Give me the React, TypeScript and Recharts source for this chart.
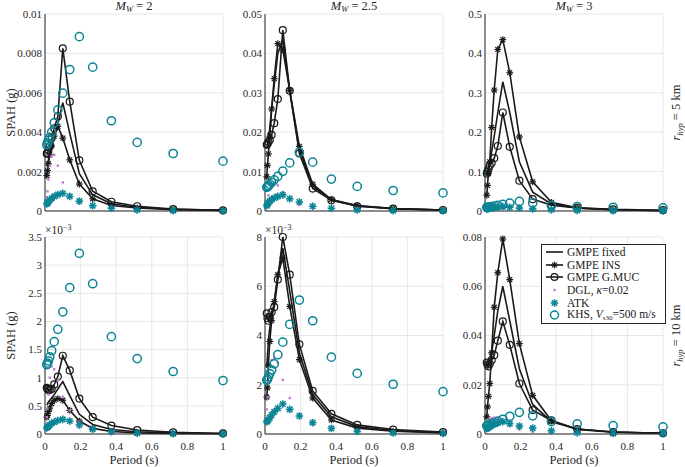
import React from "react";
import { ComposedChart, Line, XAxis, YAxis, CartesianGrid, Legend } from "recharts";

// periods (s), shared by every series
const periods = [0.01, 0.0139, 0.0193, 0.0268, 0.0373, 0.0518, 0.072, 0.1, 0.139, 0.193, 0.268, 0.373, 0.518, 0.72, 1.0];
const xTicksTop = [0, 0.5, 1];
const xTicksBottom = [0, 0.2, 0.4, 0.6, 0.8, 1];

// Mw = 2, r = 5 km
const fixedM2R5 = [0.0023, 0.0024, 0.0026, 0.0029, 0.0033, 0.0038, 0.0044, 0.0055, 0.00395, 0.0019, 0.00082, 0.00037, 0.00019, 0.00008, 0.00003];
const insM2R5 = [0.0018, 0.00205, 0.0024, 0.00285, 0.0033, 0.0038, 0.0043, 0.0037, 0.0026, 0.00137, 0.00062, 0.00028, 0.00015, 0.00007, 0.00003];
const gmucM2R5 = [0.0029, 0.00295, 0.0031, 0.0033, 0.0037, 0.0042, 0.0048, 0.00826, 0.00555, 0.00257, 0.001, 0.00047, 0.00024, 0.0001, 0.00003];
const dglM2R5 = [0.0007, 0.001, 0.0016, 0.0023, 0.0028, 0.00285, 0.0023, 0.00145, 0.0008, 0.0004, 0.00018, 0.00008, 0.00003, 0.00001, 0.000005];
const atkM2R5 = [0.00036, 0.0004, 0.00047, 0.00055, 0.00064, 0.00074, 0.00083, 0.0009, 0.00074, 0.0005, 0.00027, 0.00014, 0.00005, 0.00002, 0.00001];
const khsM2R5 = [0.00335, 0.00345, 0.0036, 0.00374, 0.004, 0.00448, 0.00513, 0.00598, 0.00718, 0.00885, 0.0073, 0.00458, 0.00348, 0.00292, 0.00253];

// Mw = 2.5, r = 5 km
const fixedM25R5 = [0.016, 0.0165, 0.018, 0.021, 0.026, 0.032, 0.04, 0.0435, 0.0305, 0.0155, 0.0063, 0.0028, 0.0013, 0.0006, 0.00022];
const insM25R5 = [0.0087, 0.0116, 0.0145, 0.019, 0.0259, 0.0336, 0.0425, 0.041, 0.0306, 0.0164, 0.0068, 0.0029, 0.0014, 0.0006, 0.00025];
const gmucM25R5 = [0.0168, 0.017, 0.0175, 0.018, 0.0193, 0.0223, 0.0284, 0.0459, 0.0305, 0.0146, 0.0057, 0.0027, 0.0012, 0.0006, 0.00025];
const dglM25R5 = [0.0015, 0.0025, 0.004, 0.0055, 0.0068, 0.0073, 0.0065, 0.0048, 0.003, 0.0016, 0.0008, 0.00035, 0.00015, 0.00005, 0.00002];
const atkM25R5 = [0.00135, 0.0017, 0.0021, 0.0025, 0.0029, 0.0033, 0.0037, 0.0041, 0.0031, 0.0023, 0.0012, 0.0007, 0.00025, 0.0001, 0.00005];
const khsM25R5 = [0.006, 0.0062, 0.0064, 0.0068, 0.0073, 0.0079, 0.0088, 0.0101, 0.0122, 0.0149, 0.0124, 0.0081, 0.00625, 0.0052, 0.0046];

// Mw = 3, r = 5 km
const fixedM3R5 = [0.095, 0.1, 0.11, 0.125, 0.15, 0.19, 0.25, 0.328, 0.25, 0.125, 0.048, 0.018, 0.007, 0.003, 0.001];
const insM3R5 = [0.04, 0.065, 0.095, 0.125, 0.212, 0.307, 0.41, 0.435, 0.351, 0.188, 0.074, 0.022, 0.008, 0.003, 0.001];
const gmucM3R5 = [0.095, 0.1, 0.106, 0.115, 0.122, 0.134, 0.165, 0.25, 0.163, 0.077, 0.03, 0.015, 0.008, 0.004, 0.002];
const dglM3R5 = [0.005, 0.0075, 0.011, 0.0145, 0.016, 0.0165, 0.015, 0.012, 0.008, 0.0045, 0.002, 0.001, 0.0004, 0.0002, 0.0001];
const atkM3R5 = [0.005, 0.0055, 0.006, 0.007, 0.008, 0.009, 0.01, 0.011, 0.0095, 0.0075, 0.0055, 0.003, 0.0012, 0.0005, 0.0002];
const khsM3R5 = [0.0091, 0.0094, 0.0099, 0.0105, 0.0113, 0.0124, 0.0144, 0.0166, 0.0199, 0.0243, 0.0204, 0.0138, 0.0113, 0.0094, 0.008];

// Mw = 2, r = 10 km
const fixedM2R10 = [0.00052, 0.00054, 0.00057, 0.0006, 0.00064, 0.0007, 0.0008, 0.00093, 0.00068, 0.00035, 0.00017, 0.00008, 0.00004, 0.00002, 0.00001];
const insM2R10 = [0.0003, 0.00033, 0.0004, 0.00046, 0.00054, 0.0006, 0.00063, 0.0006, 0.00042, 0.00023, 0.0001, 0.000045, 0.00002, 0.00001, 0.000005];
const gmucM2R10 = [0.00082, 0.0008, 0.00078, 0.00078, 0.0008, 0.00088, 0.00102, 0.00139, 0.00113, 0.00063, 0.0003, 0.00015, 0.00007, 0.00003, 0.00001];
const dglM2R10 = [0.0003, 0.00045, 0.0007, 0.001, 0.0012, 0.00115, 0.00095, 0.00066, 0.00042, 0.00022, 0.0001, 0.00004, 0.000015, 0.000006, 0.000003];
const atkM2R10 = [0.00011, 0.00012, 0.00014, 0.00016, 0.00019, 0.00021, 0.00024, 0.00026, 0.00023, 0.00016, 0.000085, 0.00004, 0.000015, 0.000005, 0.000003];
const khsM2R10 = [0.00123, 0.00126, 0.0013, 0.00137, 0.00148, 0.00164, 0.00186, 0.00217, 0.0026, 0.00321, 0.00267, 0.00173, 0.00134, 0.00111, 0.00095];

// Mw = 2.5, r = 10 km
const fixedM25R10 = [0.0027, 0.0032, 0.0038, 0.0043, 0.0048, 0.0053, 0.0064, 0.00755, 0.0058, 0.0033, 0.0016, 0.0007, 0.0003, 0.00014, 0.00006];
const insM25R10 = [0.0015, 0.00187, 0.0028, 0.00376, 0.0046, 0.00538, 0.00647, 0.00715, 0.00518, 0.00302, 0.00146, 0.00057, 0.00024, 0.00011, 0.00004];
const gmucM25R10 = [0.0049, 0.0047, 0.0046, 0.00475, 0.00495, 0.00515, 0.00627, 0.008, 0.00647, 0.00364, 0.00175, 0.00082, 0.00037, 0.00018, 0.00008];
const dglM25R10 = [0.001, 0.0015, 0.0021, 0.0026, 0.003, 0.0031, 0.0029, 0.0022, 0.00146, 0.0008, 0.0004, 0.00017, 0.00007, 0.00003, 0.00001];
const atkM25R10 = [0.0005, 0.00053, 0.00058, 0.00066, 0.00077, 0.0009, 0.00104, 0.00122, 0.001, 0.00073, 0.00046, 0.00023, 0.0001, 0.00004, 0.00002];
const khsM25R10 = [0.00218, 0.00223, 0.00232, 0.00245, 0.0026, 0.00285, 0.00322, 0.00373, 0.00445, 0.00544, 0.0046, 0.00312, 0.00246, 0.00202, 0.00172];

// Mw = 3, r = 10 km
const fixedM3R10 = [0.027, 0.027, 0.028, 0.03, 0.033, 0.04, 0.05, 0.06, 0.046, 0.0265, 0.012, 0.005, 0.002, 0.0008, 0.0003];
const insM3R10 = [0.007, 0.011, 0.0153, 0.0205, 0.033, 0.0515, 0.0655, 0.0792, 0.0627, 0.0367, 0.0157, 0.0054, 0.0018, 0.0007, 0.0003];
const gmucM3R10 = [0.029, 0.0282, 0.0275, 0.0285, 0.03, 0.032, 0.0379, 0.0457, 0.0362, 0.0205, 0.0097, 0.0055, 0.002, 0.0008, 0.0003];
const dglM3R10 = [0.002, 0.003, 0.0045, 0.0058, 0.0065, 0.0066, 0.006, 0.0048, 0.0033, 0.0018, 0.0009, 0.0004, 0.00015, 0.00006, 0.00003];
const atkM3R10 = [0.0022, 0.0024, 0.0027, 0.003, 0.0035, 0.004, 0.0045, 0.005, 0.0042, 0.0032, 0.0024, 0.0013, 0.0005, 0.0002, 0.0001];
const khsM3R10 = [0.0033, 0.0034, 0.0036, 0.0038, 0.0041, 0.0045, 0.0052, 0.006, 0.0072, 0.0088, 0.0074, 0.005, 0.0041, 0.0034, 0.0029];

// y ticks per panel
const yTicksM2R5 = [0, 0.002, 0.004, 0.006, 0.008, 0.01];
const yTicksM25R5 = [0, 0.01, 0.02, 0.03, 0.04, 0.05];
const yTicksM3R5 = [0, 0.1, 0.2, 0.3, 0.4, 0.5];
const yTicksM2R10 = [0, 0.0005, 0.001, 0.0015, 0.002, 0.0025, 0.003, 0.0035];
const yTicksM25R10 = [0, 0.002, 0.004, 0.006, 0.008];
const yTicksM3R10 = [0, 0.02, 0.04, 0.06, 0.08];

const INK = "#1a1a1a";
const AXIS = "#262626";
const TEAL = "#0b8596";
const PURPLE = "#c27ad8";
const FONT = "'Liberation Serif', 'DejaVu Serif', serif";

const PLOT_W = 178;
const PLOT_H = 197;
const Y_W = 45;
const TOP_PAD = 16;
const RIGHT_PAD = 6;

const star = (color: string, r: number, w: number) => (props: any) => {
  const { cx, cy, index } = props;
  if (cx == null || cy == null) return <g key={`s${index}`} />;
  const d = r * 0.72;
  return (
    <g key={`s${index}`} stroke={color} strokeWidth={w}>
      <line x1={cx - r} y1={cy} x2={cx + r} y2={cy} />
      <line x1={cx} y1={cy - r} x2={cx} y2={cy + r} />
      <line x1={cx - d} y1={cy - d} x2={cx + d} y2={cy + d} />
      <line x1={cx - d} y1={cy + d} x2={cx + d} y2={cy - d} />
    </g>
  );
};

const ring = (color: string, r: number, w: number) => (props: any) => {
  const { cx, cy, index } = props;
  if (cx == null || cy == null) return <g key={`c${index}`} />;
  return <circle key={`c${index}`} cx={cx} cy={cy} r={r} fill="none" stroke={color} strokeWidth={w} />;
};

const pip = (color: string, s: number) => (props: any) => {
  const { cx, cy, index } = props;
  if (cx == null || cy == null) return <g key={`p${index}`} />;
  return <rect key={`p${index}`} x={cx - s / 2} y={cy - s / 2} width={s} height={s} fill={color} />;
};

function LegendBox() {
  const rows: { icon: React.ReactNode; text: React.ReactNode }[] = [
    { icon: <line x1={1} y1={5} x2={18} y2={5} stroke={INK} strokeWidth={1.6} />, text: "GMPE fixed" },
    {
      icon: (
        <g>
          <line x1={1} y1={5} x2={18} y2={5} stroke={INK} strokeWidth={1.6} />
          {star(INK, 3.4, 1.2)({ cx: 9.5, cy: 5, index: 0 })}
        </g>
      ),
      text: "GMPE INS",
    },
    {
      icon: (
        <g>
          <line x1={1} y1={5} x2={18} y2={5} stroke={INK} strokeWidth={1.6} />
          <circle cx={9.5} cy={5} r={3.4} fill="none" stroke={INK} strokeWidth={1.2} />
        </g>
      ),
      text: "GMPE G.MUC",
    },
    { icon: <rect x={8.3} y={3.8} width={2.4} height={2.4} fill={PURPLE} />, text: <>DGL, <i>κ</i>=0.02</> },
    { icon: star(TEAL, 3.8, 1.6)({ cx: 9.5, cy: 5, index: 1 }), text: "ATK" },
    {
      icon: <circle cx={9.5} cy={5} r={4} fill="none" stroke={TEAL} strokeWidth={1.5} />,
      text: (
        <>
          KHS, <i>V</i>
          <span style={{ fontSize: 7, verticalAlign: -2 }}>s30</span>=500 m/s
        </>
      ),
    },
  ];
  return (
    <div
      style={{
        border: `1px solid ${AXIS}`,
        background: "#fff",
        padding: "1px 2px 1px 3px",
        fontFamily: FONT,
        fontSize: 11.5,
        color: INK,
        width: 118,
      }}
    >
      {rows.map((r, i) => (
        <div key={i} style={{ display: "flex", alignItems: "center", height: 12.6, whiteSpace: "nowrap" }}>
          <svg width={20} height={10} style={{ flex: "none", marginRight: 2, overflow: "visible" }}>
            {r.icon}
          </svg>
          <span>{r.text}</span>
        </div>
      ))}
    </div>
  );
}

type PanelProps = {
  left: number;
  top: number;
  fixed: number[];
  ins: number[];
  gmuc: number[];
  dgl: number[];
  atk: number[];
  khs: number[];
  yTicks: number[];
  milli: boolean;
  bottomRow: boolean;
  withLegend?: boolean;
};

function Panel(p: PanelProps) {
  const rows = periods.map((t, i) => ({
    period: t,
    fixed: p.fixed[i],
    ins: p.ins[i],
    gmuc: p.gmuc[i],
    dgl: p.dgl[i],
    atk: p.atk[i],
    khs: p.khs[i],
  }));
  const xh = p.bottomRow ? 33 : 8;
  const xTicks = p.bottomRow ? xTicksBottom : xTicksTop;
  const yMax = p.yTicks[p.yTicks.length - 1];
  const fmtY = (v: number) => (p.milli ? String(+(v * 1000).toFixed(2)) : String(+v.toFixed(4)));
  const tickStyle = { fontSize: 11, fontFamily: FONT, fill: AXIS };
  return (
    <div style={{ position: "absolute", left: p.left - Y_W, top: p.top - TOP_PAD }}>
      <ComposedChart
        width={Y_W + PLOT_W + RIGHT_PAD}
        height={TOP_PAD + PLOT_H + xh}
        data={rows}
        margin={{ top: TOP_PAD, right: RIGHT_PAD, left: 0, bottom: 0 }}
      >
        <CartesianGrid stroke="#e2e2e2" strokeWidth={0.8} />
        <XAxis
          dataKey="period"
          type="number"
          domain={[0, 1]}
          ticks={xTicks}
          height={xh}
          stroke={AXIS}
          tickLine={false}
          tickSize={2}
          tickMargin={6}
          tick={p.bottomRow ? tickStyle : false}
          label={
            p.bottomRow
              ? { value: "Period (s)", position: "insideBottom", offset: 3, style: { fontSize: 12.5, fontFamily: FONT, fill: AXIS } }
              : undefined
          }
        />
        <XAxis xAxisId="top" orientation="top" type="number" domain={[0, 1]} ticks={xTicks} height={0} stroke={AXIS} tick={false} tickLine={false} />
        <YAxis
          type="number"
          domain={[0, yMax]}
          ticks={p.yTicks}
          width={Y_W}
          stroke={AXIS}
          tickLine={false}
          tickSize={1}
          tickMargin={2}
          tick={tickStyle}
          tickFormatter={fmtY}
        />
        <YAxis yAxisId="right" orientation="right" type="number" domain={[0, yMax]} ticks={p.yTicks} width={0} stroke={AXIS} tick={false} tickLine={false} />
        <Line dataKey="fixed" stroke={INK} strokeWidth={1.6} dot={false} activeDot={false} isAnimationActive={false} />
        <Line dataKey="ins" stroke={INK} strokeWidth={1.6} dot={star(INK, 3.4, 1.2)} activeDot={false} isAnimationActive={false} />
        <Line dataKey="gmuc" stroke={INK} strokeWidth={1.6} dot={ring(INK, 3.5, 1.2)} activeDot={false} isAnimationActive={false} />
        <Line dataKey="dgl" stroke="none" dot={pip(PURPLE, 2.4)} activeDot={false} isAnimationActive={false} />
        <Line dataKey="atk" stroke="none" dot={star(TEAL, 3.8, 1.6)} activeDot={false} isAnimationActive={false} />
        <Line dataKey="khs" stroke="none" dot={ring(TEAL, 4.1, 1.5)} activeDot={false} isAnimationActive={false} />
        {p.withLegend && (
          <Legend
            layout="vertical"
            align="center"
            verticalAlign="middle"
            content={() => <LegendBox />}
            wrapperStyle={{ left: 101, top: 23, width: 126, height: 80 }}
          />
        )}
      </ComposedChart>
    </div>
  );
}

const colLeft = [45, 265, 485];
const rowTop = [14, 237];

export default function App() {
  const txt = { fontFamily: FONT, fill: AXIS } as const;
  return (
    <div style={{ position: "absolute", left: 0, top: 0, width: 685, height: 467, background: "#fff", overflow: "hidden" }}>
      <Panel left={colLeft[0]} top={rowTop[0]} fixed={fixedM2R5} ins={insM2R5} gmuc={gmucM2R5} dgl={dglM2R5} atk={atkM2R5} khs={khsM2R5} yTicks={yTicksM2R5} milli={false} bottomRow={false} />
      <Panel left={colLeft[1]} top={rowTop[0]} fixed={fixedM25R5} ins={insM25R5} gmuc={gmucM25R5} dgl={dglM25R5} atk={atkM25R5} khs={khsM25R5} yTicks={yTicksM25R5} milli={false} bottomRow={false} />
      <Panel left={colLeft[2]} top={rowTop[0]} fixed={fixedM3R5} ins={insM3R5} gmuc={gmucM3R5} dgl={dglM3R5} atk={atkM3R5} khs={khsM3R5} yTicks={yTicksM3R5} milli={false} bottomRow={false} />
      <Panel left={colLeft[0]} top={rowTop[1]} fixed={fixedM2R10} ins={insM2R10} gmuc={gmucM2R10} dgl={dglM2R10} atk={atkM2R10} khs={khsM2R10} yTicks={yTicksM2R10} milli={true} bottomRow={true} />
      <Panel left={colLeft[1]} top={rowTop[1]} fixed={fixedM25R10} ins={insM25R10} gmuc={gmucM25R10} dgl={dglM25R10} atk={atkM25R10} khs={khsM25R10} yTicks={yTicksM25R10} milli={true} bottomRow={true} />
      <Panel left={colLeft[2]} top={rowTop[1]} fixed={fixedM3R10} ins={insM3R10} gmuc={gmucM3R10} dgl={dglM3R10} atk={atkM3R10} khs={khsM3R10} yTicks={yTicksM3R10} milli={false} bottomRow={true} withLegend />

      <svg width={685} height={467} style={{ position: "absolute", left: 0, top: 0, pointerEvents: "none" }}>
        {[
          ["2", colLeft[0]],
          ["2.5", colLeft[1]],
          ["3", colLeft[2]],
        ].map(([m, x]) => (
          <text key={m as string} x={(x as number) + PLOT_W / 2} y={10} textAnchor="middle" fontSize={12.5} {...txt}>
            <tspan fontStyle="italic">M</tspan>
            <tspan fontStyle="italic" fontSize={8.5} dy={2}>W</tspan>
            <tspan dy={-2}> = {m}</tspan>
          </text>
        ))}
        {[rowTop[0], rowTop[1]].map((t) => (
          <text key={`yl${t}`} transform={`translate(15, ${t + PLOT_H / 2}) rotate(-90)`} textAnchor="middle" fontSize={12.5} {...txt}>
            SPAH (g)
          </text>
        ))}
        {[
          ["5", rowTop[0]],
          ["10", rowTop[1]],
        ].map(([r, t]) => (
          <text key={`rl${r}`} transform={`translate(680, ${(t as number) + PLOT_H / 2}) rotate(-90)`} textAnchor="middle" fontSize={12.5} {...txt}>
            <tspan fontStyle="italic">r</tspan>
            <tspan fontStyle="italic" fontSize={8.5} dy={2.5}>hyp</tspan>
            <tspan dy={-2.5}> = {r} km</tspan>
          </text>
        ))}
        {[colLeft[0], colLeft[1]].map((x) => (
          <text key={`ex${x}`} x={x} y={234} fontSize={11.5} {...txt}>
            ×10
            <tspan fontSize={8} dy={-4.5}>−3</tspan>
          </text>
        ))}
      </svg>
    </div>
  );
}
